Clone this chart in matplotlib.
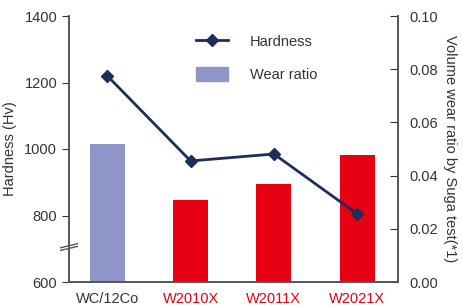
import matplotlib.pyplot as plt
import numpy as np
from matplotlib.lines import Line2D
from matplotlib.patches import Patch

plt.rcParams['font.family'] = ['Liberation Sans', 'DejaVu Sans']

materials = ["WC/12Co", "W2010X", "W2011X", "W2021X"]
hardness = [1220, 964, 985, 805]
wear_ratio = [0.052, 0.031, 0.037, 0.0477]
bar_colors = ["#8f94c9", "#e60012", "#e60012", "#e60012"]
label_colors = ["#333333", "#e60012", "#e60012", "#e60012"]

x = np.arange(len(materials))

fig = plt.figure(figsize=(4.64, 3.05), dpi=100)
ax = fig.add_axes([69 / 464, 23 / 305, 329 / 464, 266 / 305])
ax2 = ax.twinx()

ax2.bar(x, wear_ratio, width=0.42, color=bar_colors)
ax.plot(x, hardness, color="#1f2d5c", linewidth=2, marker="D", markersize=6)

ax.set_zorder(ax2.get_zorder() + 1)
ax.patch.set_visible(False)

ax.set_xlim(-0.46, 3.49)
ax.set_ylim(600, 1400)
ax.set_yticks([600, 800, 1000, 1200, 1400])
ax2.set_ylim(0, 0.10)
ax2.set_yticks([0, 0.02, 0.04, 0.06, 0.08, 0.10])
ax2.set_yticklabels(["0.00", "0.02", "0.04", "0.06", "0.08", "0.10"])

ax.set_xticks(x)
ax.set_xticklabels(materials)
for lbl, c in zip(ax.get_xticklabels(), label_colors):
    lbl.set_color(c)
ax.tick_params(axis="x", length=0, labelsize=10.5, pad=7)
ax.tick_params(axis="y", direction="out", length=5, labelsize=10.5, colors="#333333")
ax2.tick_params(axis="y", direction="in", length=6, labelsize=10.5, colors="#333333", pad=8)

for a in (ax, ax2):
    a.spines["top"].set_visible(False)
    for s in ("left", "right", "bottom"):
        a.spines[s].set_color("#555555")
        a.spines[s].set_linewidth(1.2)

ax.set_ylabel("Hardness (Hv)", fontsize=10.5, color="#333333", labelpad=5)
ax2.set_ylabel("Volume wear ratio by Suga test(*1)", fontsize=10.5, color="#333333",
               rotation=270, labelpad=14)

# axis break marks on the left spine
for dy in (-5, 3):
    ax.plot([-0.56, -0.36], [700 + dy, 712 + dy], color="#555555", lw=1,
            clip_on=False, transform=ax.transData)

handles = [Line2D([], [], color="#1f2d5c", lw=2, marker="D", markersize=6),
           Patch(color="#8f94c9")]
ax.legend(handles, ["Hardness", "Wear ratio"], loc="upper left",
          bbox_to_anchor=(0.345, 0.98), frameon=False, fontsize=10.5,
          handlelength=2.2, handleheight=1.05, handletextpad=1.5,
          labelspacing=1.25, labelcolor="#333333")

plt.savefig("out.png", dpi=100)
